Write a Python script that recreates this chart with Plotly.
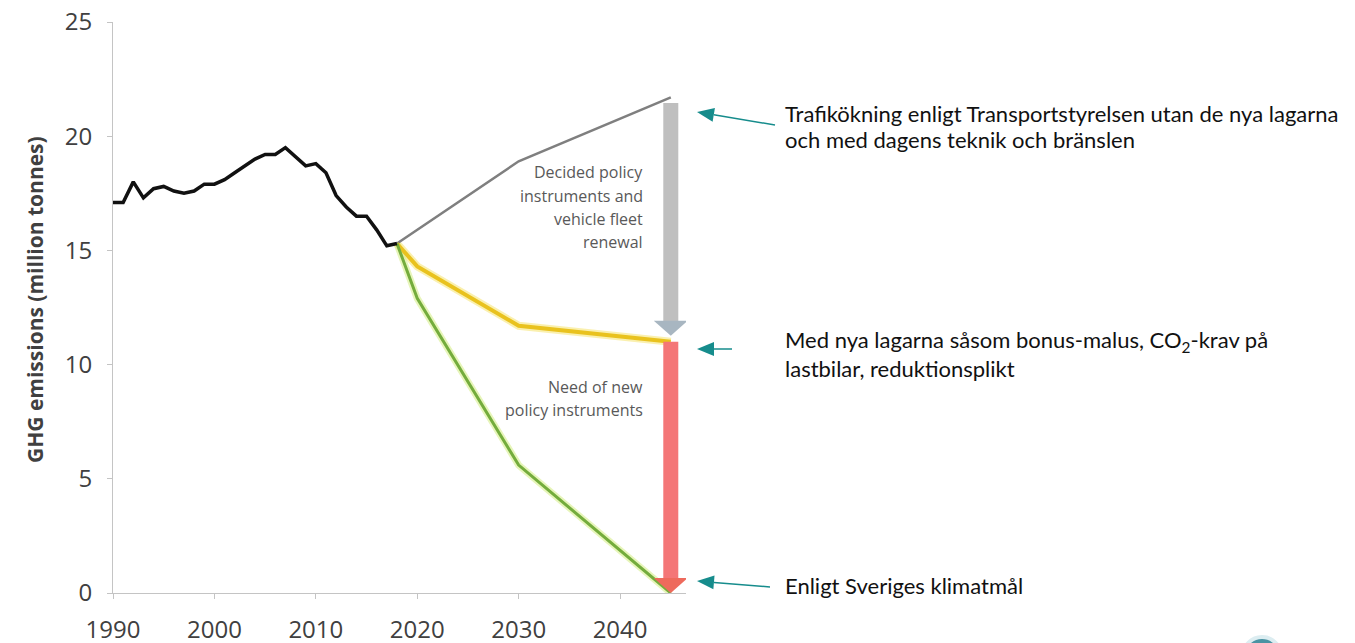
import math
import plotly.graph_objects as go

# historic emissions (million tonnes CO2e)
hist_years = list(range(1990, 2019))
hist_values = [17.1, 17.1, 18.0, 17.3, 17.7, 17.8, 17.6, 17.5, 17.6, 17.9,
               17.9, 18.1, 18.4, 18.7, 19.0, 19.2, 19.2, 19.5, 19.1, 18.7,
               18.8, 18.4, 17.4, 16.9, 16.5, 16.5, 15.9, 15.2, 15.3]

# scenarios
gray_years = [2018, 2030, 2045]
gray_values = [15.3, 18.9, 21.7]
yellow_years = [2018, 2020, 2030, 2045]
yellow_values = [15.3, 14.3, 11.7, 11.0]
green_years = [2018, 2020, 2030, 2045]
green_values = [15.3, 12.9, 5.6, 0.0]

x_ticks = [1990, 2000, 2010, 2020, 2030, 2040]
y_ticks = [0, 5, 10, 15, 20, 25]

# layout geometry (page body has an 8px margin)
PAGE = 8
FIG_W, FIG_H = 1355 - PAGE, 643 - PAGE
L, R, T, B = 105, 669, 14, 50
PLOT_W = FIG_W - L - R
PLOT_H = FIG_H - T - B
Y_MAX = 25
UNIT_PX = PLOT_H / Y_MAX


def paper_x(px):
    return (px - PAGE - L) / PLOT_W


def paper_y(py):
    return (FIG_H - B - (py - PAGE)) / PLOT_H


fig = go.Figure()

# soft glows under the coloured scenario lines
fig.add_trace(go.Scatter(x=yellow_years, y=yellow_values, mode="lines",
                         line=dict(color="rgba(245,228,110,0.55)", width=8),
                         hoverinfo="skip"))
fig.add_trace(go.Scatter(x=green_years, y=green_values, mode="lines",
                         line=dict(color="rgba(215,238,140,0.6)", width=7),
                         hoverinfo="skip"))

fig.add_trace(go.Scatter(x=gray_years, y=gray_values, mode="lines",
                         line=dict(color="#7f7f7f", width=2.5)))
fig.add_trace(go.Scatter(x=yellow_years, y=yellow_values, mode="lines",
                         line=dict(color="#e9c21e", width=4)))
fig.add_trace(go.Scatter(x=green_years, y=green_values, mode="lines",
                         line=dict(color="#74ac3c", width=3)))
fig.add_trace(go.Scatter(x=hist_years, y=hist_values, mode="lines",
                         line=dict(color="#111111", width=3.5)))

# vertical block arrows at the end year
end_year = gray_years[-1]
head_h = 15
gap = 6 / UNIT_PX
arrows = [
    (gray_values[-1] - 0.25, yellow_values[-1] + gap, "#bfbfbf", "#a8b6c1"),
    (yellow_values[-1], green_values[-1], "#f47677", "#ee6a5c"),
]
for top, tip, shaft_col, head_col in arrows:
    base = tip + (head_h - 1) / UNIT_PX
    fig.add_trace(go.Scatter(x=[end_year, end_year], y=[top, base], mode="lines",
                             line=dict(color=shaft_col, width=15),
                             hoverinfo="skip"))
    fig.add_shape(type="path", xref="x", yref="y",
                  xsizemode="pixel", ysizemode="pixel",
                  xanchor=end_year, yanchor=tip,
                  path=f"M-17,{head_h} L17,{head_h} L0,0 Z",
                  fillcolor=head_col, line=dict(width=0))

# labels inside the chart
inner_font = dict(family="Open Sans", size=16, color="#595959")
inner_lines = [
    ("Decided policy", 172), ("instruments and", 196),
    ("vehicle fleet", 219), ("renewal", 242),
    ("Need of new", 387), ("policy instruments", 410),
]
for txt, py in inner_lines:
    fig.add_annotation(text=txt, xref="paper", yref="paper",
                       x=paper_x(645), y=paper_y(py), xanchor="right",
                       yanchor="middle", showarrow=False, font=inner_font)

# right-hand explanations with teal arrows
side_font = dict(family="Lato", size=22, color="#111111")
side_lines = [
    ("Trafikökning enligt Transportstyrelsen utan de nya lagarna", 113),
    ("och med dagens teknik och bränslen", 139),
    ("Med nya lagarna såsom bonus-malus, CO<sub>2</sub>-krav på", 341),
    ("lastbilar, reduktionsplikt", 368),
    ("Enligt Sveriges klimatmål", 585),
]
for txt, py in side_lines:
    fig.add_annotation(text=txt, xref="paper", yref="paper",
                       x=paper_x(783), y=paper_y(py), xanchor="left",
                       yanchor="middle", showarrow=False, font=side_font)

teal = "#168c8c"
teal_arrows = [((697, 112), (775, 125)),
               ((697, 349), (732, 349)),
               ((697, 581), (770, 587))]
head_len, head_half = 17, 7
for (hx, hy), (tx, ty) in teal_arrows:
    d = math.hypot(tx - hx, ty - hy)
    ux, uy = (tx - hx) / d, (ty - hy) / d
    bx, by = hx + ux * head_len, hy + uy * head_len
    fig.add_shape(type="line", xref="paper", yref="paper",
                  x0=paper_x(tx), y0=paper_y(ty), x1=paper_x(bx), y1=paper_y(by),
                  line=dict(color=teal, width=1.5))
    p1 = (bx - uy * head_half, by + ux * head_half)
    p2 = (bx + uy * head_half, by - ux * head_half)
    fig.add_shape(type="path", xref="paper", yref="paper",
                  path=(f"M{paper_x(hx)},{paper_y(hy)} "
                        f"L{paper_x(p1[0])},{paper_y(p1[1])} "
                        f"L{paper_x(p2[0])},{paper_y(p2[1])} Z"),
                  fillcolor=teal, line=dict(width=0))

# y axis title
fig.add_annotation(text="<b>GHG emissions (million tonnes)</b>", xref="paper",
                   yref="paper", x=paper_x(35), y=paper_y(300), textangle=-90,
                   showarrow=False, xanchor="center", yanchor="middle",
                   font=dict(family="Open Sans", size=21, color="#404040"))

# cropped logo at the bottom right
fig.add_shape(type="circle", xref="paper", yref="paper",
              x0=paper_x(1243), x1=paper_x(1281),
              y0=paper_y(675), y1=paper_y(637),
              fillcolor="#4a93a3", line=dict(color="#dcedf1", width=4))

fig.update_layout(
    width=FIG_W, height=FIG_H,
    margin=dict(l=L, r=R, t=T, b=B, autoexpand=False),
    paper_bgcolor="white", plot_bgcolor="white",
    showlegend=False,
    xaxis=dict(range=[1990, 2046.5], tickvals=x_ticks, showgrid=False,
               zeroline=False, showline=True, linecolor="#c4c4c4", linewidth=1,
               ticks="outside", ticklen=5, tickcolor="#c4c4c4",
               ticklabelstandoff=10, automargin=False, ticklabeloverflow="allow",
               tickfont=dict(family="Open Sans", size=24, color="#404040")),
    yaxis=dict(range=[0, Y_MAX], tickvals=y_ticks, showgrid=False,
               zeroline=False, showline=True, linecolor="#c4c4c4", linewidth=1,
               ticks="outside", ticklen=5, tickcolor="#c4c4c4",
               ticklabelstandoff=10, automargin=False, ticklabeloverflow="allow",
               tickfont=dict(family="Open Sans", size=24, color="#404040")),
)

fig.write_html("out.html")
